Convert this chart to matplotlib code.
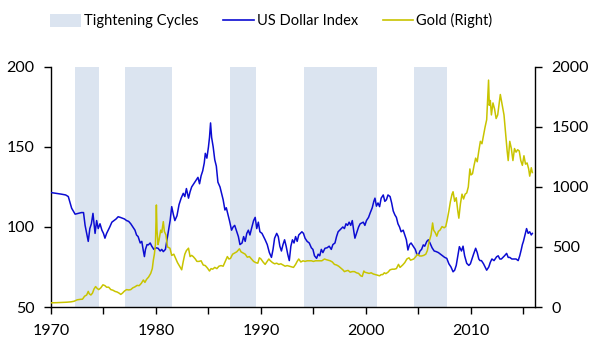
import numpy as np
import matplotlib.pyplot as plt
from matplotlib.patches import Patch
from matplotlib.lines import Line2D

plt.rcParams['font.family'] = ['Lato', 'DejaVu Sans']

# Fed tightening cycles (start, end) in decimal years
tight_start = [1972.3, 1977.05, 1987.05, 1994.1, 2004.55]
tight_end = [1974.6, 1981.5, 1989.5, 2001.05, 2007.75]

# US Dollar Index (left axis)
dxy_years = [
    1970.0, 1970.5, 1971.0, 1971.4, 1971.65, 1971.97, 1972.3, 1972.6, 1972.9, 1973.1,
    1973.25, 1973.4, 1973.55, 1973.7, 1973.85, 1974.0, 1974.2, 1974.35, 1974.5, 1974.67,
    1974.85, 1975.0, 1975.14, 1975.3, 1975.45, 1975.6, 1975.8, 1976.0, 1976.2, 1976.4,
    1976.6, 1976.8, 1977.0, 1977.2, 1977.4, 1977.6, 1977.8, 1978.0, 1978.15, 1978.3,
    1978.5, 1978.65, 1978.8, 1978.9, 1979.0, 1979.15, 1979.27, 1979.45, 1979.6, 1979.8,
    1980.0, 1980.2, 1980.4, 1980.55, 1980.7, 1980.9, 1981.05, 1981.2, 1981.35, 1981.5,
    1981.65, 1981.8, 1982.0, 1982.2, 1982.4, 1982.6, 1982.75, 1982.9, 1983.1, 1983.25,
    1983.4, 1983.6, 1983.8, 1984.0, 1984.15, 1984.3, 1984.45, 1984.6, 1984.7, 1984.85,
    1985.0, 1985.1, 1985.2, 1985.3, 1985.45, 1985.6, 1985.75, 1985.9, 1986.1, 1986.25,
    1986.4, 1986.57, 1986.7, 1986.85, 1987.0, 1987.2, 1987.35, 1987.5, 1987.7, 1987.85,
    1988.0, 1988.2, 1988.35, 1988.5, 1988.65, 1988.8, 1988.95, 1989.1, 1989.3, 1989.45,
    1989.6, 1989.75, 1989.9, 1990.1, 1990.25, 1990.4, 1990.6, 1990.8, 1991.0, 1991.15,
    1991.3, 1991.5, 1991.65, 1991.8, 1991.95, 1992.1, 1992.25, 1992.4, 1992.55, 1992.7,
    1992.85, 1993.0, 1993.15, 1993.3, 1993.45, 1993.6, 1993.75, 1993.9, 1994.05, 1994.2,
    1994.4, 1994.6, 1994.8, 1994.95, 1995.1, 1995.3, 1995.45, 1995.6, 1995.75, 1995.9,
    1996.1, 1996.3, 1996.5, 1996.7, 1996.85, 1997.05, 1997.2, 1997.35, 1997.5, 1997.65,
    1997.8, 1997.95, 1998.1, 1998.25, 1998.4, 1998.55, 1998.7, 1998.85, 1998.95, 1999.1,
    1999.3, 1999.45, 1999.6, 1999.75, 1999.9, 2000.05, 2000.25, 2000.4, 2000.6, 2000.75,
    2000.86, 2001.0, 2001.15, 2001.3, 2001.45, 2001.65, 2001.8, 2001.95, 2002.1, 2002.3,
    2002.45, 2002.6, 2002.76, 2002.9, 2003.05, 2003.2, 2003.35, 2003.55, 2003.7, 2003.85,
    2004.0, 2004.15, 2004.3, 2004.5, 2004.7, 2004.85, 2005.0, 2005.15, 2005.3, 2005.46,
    2005.6, 2005.8, 2005.95, 2006.1, 2006.3, 2006.5, 2006.7, 2006.9, 2007.1, 2007.3,
    2007.5, 2007.7, 2007.9, 2008.1, 2008.3, 2008.45, 2008.6, 2008.75, 2008.9, 2009.1,
    2009.25, 2009.4, 2009.6, 2009.8, 2009.95, 2010.1, 2010.25, 2010.45, 2010.6, 2010.75,
    2010.86, 2011.0, 2011.2, 2011.35, 2011.5, 2011.7, 2011.85, 2012.0, 2012.2, 2012.45,
    2012.6, 2012.75, 2012.9, 2013.05, 2013.2, 2013.4, 2013.55, 2013.7, 2013.9, 2014.1,
    2014.3, 2014.5, 2014.65, 2014.8, 2014.9, 2015.0, 2015.15, 2015.3, 2015.45, 2015.6,
    2015.75, 2015.85,
]
dxy_values = [
    121.5, 121, 120.5, 120, 119, 111.7, 108, 108.5, 109, 109,
    101, 96, 91, 99, 102, 108.5, 96, 104, 99, 102,
    98, 96, 93, 96, 98, 100, 103, 104, 105, 106.4,
    106, 105.5, 105, 104, 103.5, 102, 100, 98, 95, 94,
    90, 91, 85, 81.5, 86, 89, 88.8, 90, 88, 86,
    87, 86.7, 85, 86, 84.6, 86, 92, 98, 104, 112.7,
    108, 104, 107, 114, 118, 121, 119, 124, 118, 122,
    125, 127, 129, 131, 127, 132, 135, 140, 146, 143,
    150, 156, 165, 156, 150, 142, 138, 128, 125, 121,
    117, 110.6, 112, 108, 104, 98, 100, 101, 97, 94,
    89, 90, 94, 91, 96, 98, 95, 99, 104, 106,
    99, 103, 97, 96, 94, 92, 89, 84, 81, 86,
    93, 96, 94, 88, 85, 89, 92, 88, 83, 79,
    88, 92, 90, 94, 91, 95, 96, 97, 96, 93,
    91, 90, 87, 86, 82, 80.4, 83, 82, 86, 84,
    86.7, 87, 88, 86, 89, 90, 94, 97, 98, 99,
    100, 99, 102, 101, 103, 101, 104, 97, 93, 96,
    100, 102, 102.5, 103, 101, 104, 106, 108.7, 112, 116,
    118, 113, 115, 112.7, 118, 120, 116, 117, 120, 119,
    115, 110, 107.5, 106, 102, 100, 97, 98, 95, 92,
    85.6, 89, 90, 88, 86, 83, 82.5, 85, 86, 88.8,
    88, 91, 92, 90, 87, 85, 84.6, 84, 83, 82,
    81, 80.4, 77, 75, 72, 73, 76, 82, 87.7, 85,
    88, 82, 77.3, 76, 77, 80, 83, 86.7, 84, 80,
    79, 79, 77, 75, 73, 75, 78, 80, 79, 81.4,
    82, 80, 80, 81, 82, 83.5, 81, 81, 80, 80,
    80, 79, 82, 86, 89, 91, 95, 99, 96, 97,
    95, 96,
]

# Gold price in USD/oz (right axis)
gold_years = [
    1970.0, 1970.5, 1971.0, 1971.5, 1971.9, 1972.2, 1972.5, 1972.8, 1973.0, 1973.2,
    1973.4, 1973.55, 1973.65, 1973.8, 1973.95, 1974.1, 1974.25, 1974.4, 1974.55, 1974.75,
    1974.95, 1975.14, 1975.3, 1975.5, 1975.7, 1975.9, 1976.1, 1976.3, 1976.5, 1976.65,
    1976.8, 1977.0, 1977.2, 1977.4, 1977.6, 1977.8, 1978.0, 1978.2, 1978.4, 1978.6,
    1978.8, 1978.95, 1979.1, 1979.3, 1979.5, 1979.65, 1979.75, 1979.85, 1979.95, 1980.04,
    1980.1, 1980.2, 1980.3, 1980.45, 1980.55, 1980.7, 1980.8, 1980.95, 1981.1, 1981.33,
    1981.5, 1981.7, 1981.85, 1982.05, 1982.25, 1982.45, 1982.6, 1982.75, 1982.9, 1983.1,
    1983.25, 1983.4, 1983.55, 1983.75, 1983.9, 1984.1, 1984.3, 1984.5, 1984.7, 1984.9,
    1985.1, 1985.25, 1985.4, 1985.6, 1985.8, 1986.0, 1986.2, 1986.4, 1986.6, 1986.8,
    1986.95, 1987.1, 1987.3, 1987.5, 1987.7, 1987.95, 1988.1, 1988.3, 1988.5, 1988.7,
    1988.9, 1989.1, 1989.3, 1989.5, 1989.7, 1989.85, 1990.0, 1990.2, 1990.4, 1990.6,
    1990.75, 1990.9, 1991.1, 1991.3, 1991.5, 1991.7, 1991.9, 1992.1, 1992.3, 1992.5,
    1992.7, 1992.9, 1993.1, 1993.3, 1993.45, 1993.6, 1993.8, 1994.0, 1994.2, 1994.4,
    1994.6, 1994.8, 1995.0, 1995.2, 1995.4, 1995.6, 1995.8, 1996.05, 1996.2, 1996.4,
    1996.6, 1996.8, 1997.0, 1997.2, 1997.4, 1997.6, 1997.8, 1997.95, 1998.1, 1998.3,
    1998.5, 1998.7, 1998.9, 1999.1, 1999.3, 1999.5, 1999.65, 1999.8, 1999.9, 2000.1,
    2000.3, 2000.5, 2000.7, 2000.9, 2001.1, 2001.3, 2001.45, 2001.6, 2001.75, 2001.9,
    2002.1, 2002.3, 2002.5, 2002.7, 2002.9, 2003.1, 2003.25, 2003.5, 2003.7, 2003.9,
    2004.1, 2004.25, 2004.4, 2004.55, 2004.75, 2004.9, 2005.1, 2005.3, 2005.5, 2005.7,
    2005.85, 2006.0, 2006.2, 2006.35, 2006.45, 2006.6, 2006.75, 2006.9, 2007.05, 2007.25,
    2007.45, 2007.6, 2007.75, 2007.9, 2008.05, 2008.2, 2008.3, 2008.45, 2008.6, 2008.75,
    2008.85, 2009.0, 2009.15, 2009.3, 2009.45, 2009.6, 2009.75, 2009.9, 2010.0, 2010.15,
    2010.3, 2010.45, 2010.6, 2010.75, 2010.9, 2011.05, 2011.2, 2011.35, 2011.5, 2011.6,
    2011.68, 2011.75, 2011.85, 2011.95, 2012.1, 2012.25, 2012.4, 2012.55, 2012.7, 2012.8,
    2012.9, 2013.0, 2013.15, 2013.3, 2013.45, 2013.55, 2013.7, 2013.85, 2014.0, 2014.15,
    2014.3, 2014.45, 2014.6, 2014.75, 2014.9, 2015.05, 2015.2, 2015.35, 2015.5, 2015.6,
    2015.75, 2015.85,
]
gold_values = [
    35, 36, 38, 40, 43, 48, 60, 64, 65, 90,
    100, 130, 110, 100, 115, 150, 170, 155, 145, 160,
    185, 178, 165, 165, 145, 140, 130, 125, 115, 105,
    115, 133, 145, 142, 145, 160, 168, 180, 178, 197,
    225, 205, 230, 250, 280, 320, 390, 440, 520, 850,
    640, 520, 560, 640, 620, 711, 630, 600, 500, 490,
    430, 440, 410, 370, 340, 310, 380, 440, 470, 490,
    420, 430, 420, 400, 380, 380, 385, 350, 345, 325,
    300, 320, 315, 330, 320, 340, 345, 340, 380, 420,
    400, 405, 440, 450, 460, 485, 460, 450, 440, 415,
    420, 400, 380, 370, 365, 410, 400, 375, 355, 380,
    400, 385, 370, 360, 365, 355, 360, 350, 340, 345,
    340, 335, 330, 355, 380, 400, 375, 385, 380, 385,
    385, 385, 380, 385, 385, 385, 385, 400, 395, 390,
    385, 375, 355, 350, 340, 325, 310, 295, 300, 305,
    290, 295, 295, 285, 280, 260, 255, 300, 290, 285,
    280, 285, 275, 270, 265, 260, 270, 270, 285, 278,
    290, 310, 315, 315, 320, 355, 330, 350, 370, 400,
    410, 390, 395, 400, 420, 440, 425, 425, 430, 440,
    470, 540, 600, 700, 640, 620, 590, 630, 640, 670,
    660, 670, 730, 800, 880, 940, 960, 880, 910, 800,
    740, 860, 940, 900, 940, 950, 1000, 1150, 1100, 1110,
    1180, 1240, 1210, 1300, 1380, 1360, 1430, 1500, 1560, 1750,
    1890, 1680, 1720, 1600, 1700, 1650, 1570, 1600, 1700, 1770,
    1720, 1670, 1600, 1450, 1300, 1220, 1380, 1320, 1220, 1320,
    1290, 1310, 1300, 1220, 1180, 1260, 1190, 1200, 1150, 1090,
    1160, 1120,
]

shade_color = '#dbe4f0'
usd_color = '#0c0cd2'
gold_color = '#c8c400'

fig = plt.figure(figsize=(5.99, 3.49), dpi=100)
ax = fig.add_axes([0.0851, 0.1203, 0.808, 0.688])
ax2 = ax.twinx()

for s, e in zip(tight_start, tight_end):
    ax.axvspan(s, e, color=shade_color, lw=0, zorder=0)

ax.plot(dxy_years, dxy_values, color=usd_color, lw=1.1, zorder=3)
ax2.plot(gold_years, gold_values, color=gold_color, lw=1.1)

ax.set_xlim(1970, 2016.1)
ax.set_ylim(50, 200)
ax2.set_ylim(0, 2000)

ax.set_yticks([50, 100, 150, 200])
ax2.set_yticks([0, 500, 1000, 1500, 2000])
xt = list(range(1970, 2016, 5))
ax.set_xticks(xt)
ax.set_xticklabels([str(y) if y % 10 == 0 else '' for y in xt])

for a in (ax, ax2):
    a.spines['top'].set_visible(False)
    for sp in a.spines.values():
        sp.set_linewidth(1.0)
    a.tick_params(length=5, width=1.0, labelsize=11.5, pad=7)
ax.spines['right'].set_visible(False)
ax2.spines['left'].set_visible(False)
ax2.spines['bottom'].set_visible(False)

handles = [
    Patch(facecolor=shade_color, edgecolor='none'),
    Line2D([], [], color=usd_color, lw=1.2),
    Line2D([], [], color=gold_color, lw=1.2),
]
labels = ['Tightening Cycles', 'US Dollar Index', 'Gold (Right)']
fig.legend(handles, labels, loc='center left', bbox_to_anchor=(0.062, 0.94),
           ncol=3, frameon=False, fontsize=10.5, handlelength=2.1,
           handleheight=1.0, handletextpad=0.2, columnspacing=1.7)

fig.savefig('out.png', dpi=100)
